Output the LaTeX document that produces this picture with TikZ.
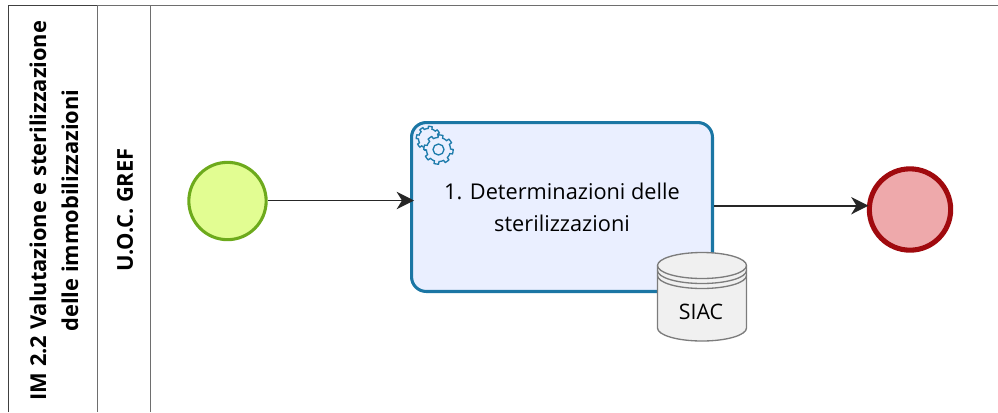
\documentclass[tikz,border=0pt]{standalone}
\usepackage{fontspec}
\setmainfont{Open Sans}
\usetikzlibrary{arrows.meta}
\definecolor{taskline}{HTML}{1B76A4}
\definecolor{taskfill}{HTML}{EAEFFF}
\definecolor{gearline}{HTML}{1F7CAC}
\definecolor{startline}{HTML}{6DAA1C}
\definecolor{startfill}{HTML}{E2FD92}
\definecolor{endline}{HTML}{A00A0E}
\definecolor{endfill}{HTML}{EEA9AB}
\definecolor{poolline}{HTML}{6E6E6E}
\definecolor{dbline}{HTML}{7C7C7C}
\definecolor{dbfill}{HTML}{F0F0F0}
\tikzset{
 poolrule/.style={draw=poolline,line width=1.3pt},
 poolhead/.style={draw=black!75,line width=1.3pt},
 poolname/.style={rotate=90,font=\bfseries\fontsize{16.4}{24}\selectfont,align=center,inner sep=0pt},
 flowarrow/.style={draw=black!85,line width=1.2pt,-{Stealth[length=13pt,width=13pt,inset=4pt]}},
 startevent/.style={circle,draw=startline,fill=startfill,line width=2.3pt,minimum size=58pt,inner sep=0pt},
 endevent/.style={circle,draw=endline,fill=endfill,line width=3.8pt,minimum size=61pt,inner sep=0pt},
 taskbox/.style={rectangle,rounded corners=11pt,draw=taskline,fill=taskfill,line width=2.3pt,minimum width=225.7pt,minimum height=126.7pt,inner sep=0pt,align=center,font=\fontsize{16.3}{24}\selectfont},
 dbshape/.style={draw=dbline,fill=dbfill,line width=1pt}
}
\newcommand{\gearwheel}[3]{% xcenter, ycenter, radius
\draw [draw=gearline,fill=taskfill,line width=1pt] plot [domain=0:360,samples=145,variable=\t]
 ({#1+(#3+0.22*#3*(sin(8*\t+20)>0?1:0))*cos(\t)},{#2+(#3+0.22*#3*(sin(8*\t+20)>0?1:0))*sin(\t)}) -- cycle;
}
\newcommand{\database}[4]{% xleft, ytop, xright, ybottom
\draw [dbshape] (#1,#2+13) arc (180:360:{(#3-#1)/2} and 13) -- (#3,#4-13) arc (0:180:{(#3-#1)/2} and 13) -- cycle;
\draw [dbshape,fill=none] (#1,#2+13) arc (180:0:{(#3-#1)/2} and 13);
\draw [dbshape,fill=none] (#1,#2+18) arc (180:0:{(#3-#1)/2} and 13);
\draw [dbshape,fill=none] (#1,#2+23) arc (180:0:{(#3-#1)/2} and 13);
}
\begin{document}
\begin{tikzpicture}[x=0.75pt,y=-0.75pt]
\useasboundingbox (0,0) rectangle (998,412);

% lanes
\draw [poolhead] (8.5,412)--(8.5,5.5)--(97,5.5);
\draw [poolrule] (97,5.5)--(998,5.5);
\draw [poolrule] (97.5,5.5)--(97.5,412);
\draw [poolrule] (150.5,5.5)--(150.5,412);

\node [poolname] (pool) at (54,210.5) {IM 2.2 Valutazione e sterilizzazione\\delle immobilizzazioni};
\node [poolname] (lane) at (125,210) {U.O.C. GREF};

\node [startevent] (start) at (227.5,201) {};
\node [endevent] (finish) at (910,209.5) {};
\node [taskbox] (task) at (562,207) {1. Determinazioni delle\\sterilizzazioni};

\coordinate (taskin) at (414,200.5);
\coordinate (finishin) at (868.5,205.7);
\draw [flowarrow] (start.east |- taskin)--(taskin);
\draw [flowarrow] (task.east |- finishin)--(finishin);

\gearwheel{428.5}{138.5}{10}
\gearwheel{438.5}{149.5}{12}
\draw [draw=gearline,line width=1pt] (438.5,149.5) circle (5.5);

\database{657.5}{252.5}{746.5}{341}
\node [font=\fontsize{16}{18}\selectfont,inner sep=0pt] (siac) at (701,311.5) {SIAC};
\end{tikzpicture}
\end{document}
